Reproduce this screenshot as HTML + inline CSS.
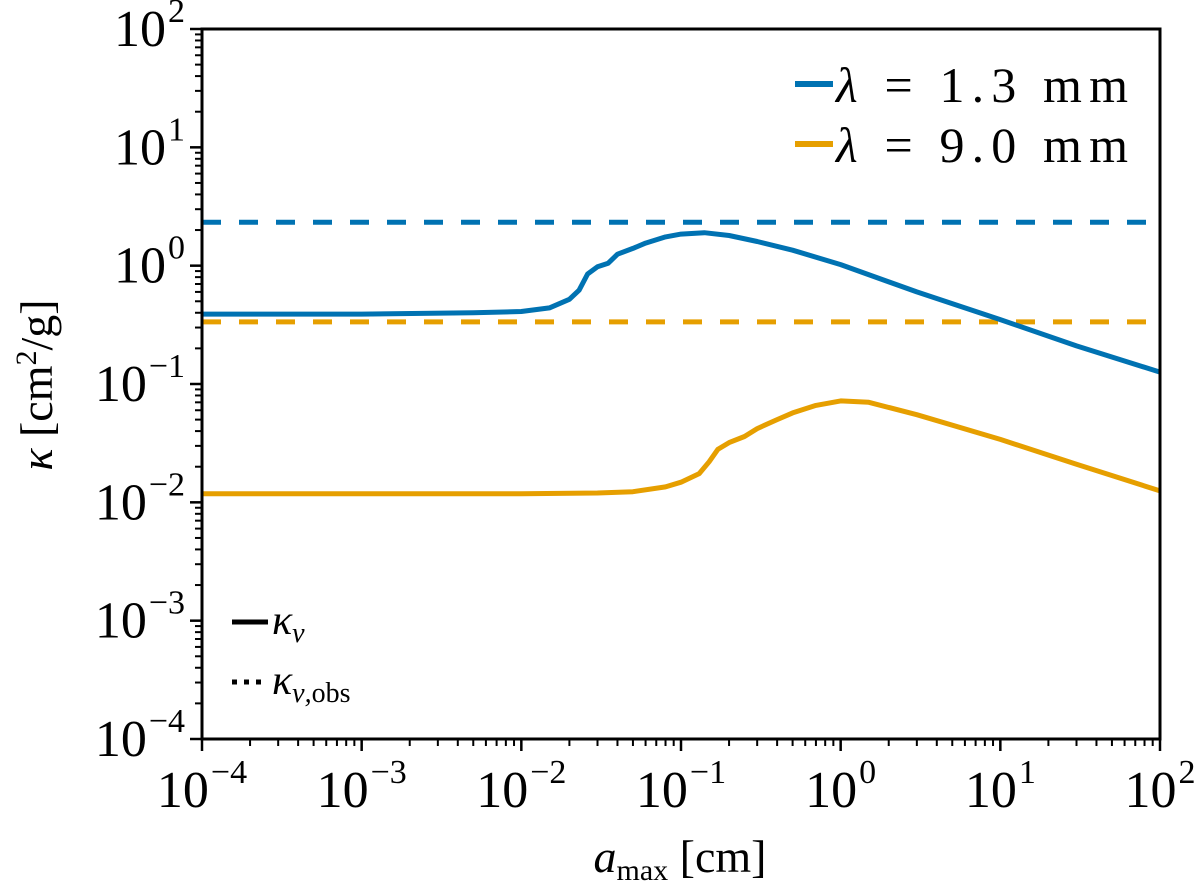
<!DOCTYPE html>
<html><head><meta charset="utf-8"><style>
body{margin:0;background:#fff}
svg text{font-family:"Liberation Serif",serif;fill:#000}
</style></head><body>
<svg id="chart" width="1200" height="891" viewBox="0 0 1200 891" xmlns="http://www.w3.org/2000/svg">
<g id="plot"></g>
</svg>
<script>
const xDecades=[-4,-3,-2,-1,0,1,2];
const yDecades=[-4,-3,-2,-1,0,1,2];
const blueX=[1e-4,1e-3,5e-3,1e-2,1.5e-2,2e-2,2.3e-2,2.6e-2,3e-2,3.5e-2,4e-2,5e-2,6e-2,8e-2,0.1,0.14,0.2,0.3,0.5,1,3,10,30,100];
const blueY=[0.39,0.39,0.40,0.41,0.44,0.52,0.62,0.85,0.98,1.05,1.25,1.4,1.55,1.75,1.85,1.9,1.8,1.6,1.35,1.02,0.6,0.35,0.21,0.126];
const orangeX=[1e-4,1e-3,1e-2,3e-2,5e-2,8e-2,0.1,0.13,0.15,0.17,0.2,0.25,0.3,0.4,0.5,0.7,1.0,1.5,3,10,30,100];
const orangeY=[0.0118,0.0118,0.0118,0.012,0.0123,0.0135,0.0148,0.0175,0.022,0.028,0.032,0.036,0.042,0.05,0.057,0.066,0.072,0.07,0.055,0.034,0.021,0.0125];
const blueObs=2.33;
const orangeObs=0.335;
const L=202,R=1160,T=29,B=739;
const xs=v=>L+(Math.log10(v)+4)/6*(R-L);
const ys=v=>B-(Math.log10(v)+4)/6*(B-T);
const NS="http://www.w3.org/2000/svg";
const g=document.getElementById('plot');
function mk(t,a,p){const e=document.createElementNS(NS,t);for(const k in a)e.setAttribute(k,a[k]);(p||g).appendChild(e);return e;}
let d1=mk('line',{x1:L,x2:R,y1:ys(blueObs),y2:ys(blueObs),stroke:'#0072b2','stroke-width':5,'stroke-dasharray':'19 18'});


let d2=mk('line',{x1:L,x2:R,y1:ys(orangeObs),y2:ys(orangeObs),stroke:'#e69f00','stroke-width':5,'stroke-dasharray':'19 18'});


function path(X,Y){return X.map((x,i)=>(i?'L':'M')+xs(x).toFixed(1)+','+ys(Y[i]).toFixed(1)).join('');}
let p1=mk('path',{d:path(blueX,blueY),fill:'none',stroke:'#0072b2','stroke-width':5,'stroke-linejoin':'round'});


let p2=mk('path',{d:path(orangeX,orangeY),fill:'none',stroke:'#e69f00','stroke-width':5,'stroke-linejoin':'round'});


let fr=mk('rect',{x:L,y:T,width:R-L,height:B-T,fill:'none',stroke:'#000','stroke-width':3});


xDecades.forEach((d,i)=>{
 const x=xs(Math.pow(10,d));
 mk('line',{x1:x,x2:x,y1:B,y2:B+12,stroke:'#000','stroke-width':2.5});
 let t=mk('text',{x:x,y:B+68,'font-size':52,'text-anchor':'middle'});
 
 
 t.innerHTML='10<tspan font-size="34" dy="-24" dx="2">'+(d<0?'−'+(-d):d)+'</tspan>';
 if(i<xDecades.length-1)for(let m=2;m<10;m++){const xm=xs(m*Math.pow(10,d));mk('line',{x1:xm,x2:xm,y1:B,y2:B+7,stroke:'#000','stroke-width':2});}
});
yDecades.forEach((d,i)=>{
 const y=ys(Math.pow(10,d));
 mk('line',{x1:L-12,x2:L,y1:y,y2:y,stroke:'#000','stroke-width':2.5});
 let t=mk('text',{x:L-17,y:y+17,'font-size':52,'text-anchor':'end'});
 
 
 t.innerHTML='10<tspan font-size="34" dy="-24" dx="2">'+(d<0?'−'+(-d):d)+'</tspan>';
 if(i<yDecades.length-1)for(let m=2;m<10;m++){const ym=ys(m*Math.pow(10,d));mk('line',{x1:L-7,x2:L,y1:ym,y2:ym,stroke:'#000','stroke-width':2});}
});
</script>
<svg width="1200" height="891" style="position:absolute;left:0;top:0" xmlns="http://www.w3.org/2000/svg">
<g>
<line x1="795" y1="84" x2="833" y2="84" stroke="#0072b2" stroke-width="6"/>
<text x="836" y="102" font-size="50" textLength="292" lengthAdjust="spacing" font-family="Liberation Serif, serif"><tspan font-style="italic">λ</tspan> = 1.3 mm</text>
<line x1="795" y1="144" x2="833" y2="144" stroke="#e69f00" stroke-width="6"/>
<text x="836" y="162" font-size="50" textLength="292" lengthAdjust="spacing" font-family="Liberation Serif, serif"><tspan font-style="italic">λ</tspan> = 9.0 mm</text>
</g>
<g>
<line x1="232" y1="622" x2="268" y2="622" stroke="#000" stroke-width="5"/>
<text x="272" y="634" font-size="42" font-style="italic" font-family="Liberation Serif, serif">κ<tspan font-size="28" dy="8">ν</tspan></text>
<line x1="232" y1="682" x2="268" y2="682" stroke="#000" stroke-width="5" stroke-dasharray="5 7"/>
<text x="272" y="694" font-size="42" font-style="italic" font-family="Liberation Serif, serif">κ<tspan font-size="28" dy="8">ν,<tspan font-style="normal">obs</tspan></tspan></text>
</g>
<text x="680" y="872" font-size="46" text-anchor="middle" font-family="Liberation Serif, serif"><tspan font-style="italic">a</tspan><tspan font-size="30" dy="8">max</tspan><tspan dy="-8"> [cm]</tspan></text>
<text transform="translate(52,385) rotate(-90)" font-size="46" text-anchor="middle" font-family="Liberation Serif, serif"><tspan font-style="italic">κ</tspan> [cm<tspan font-size="30" dy="-16">2</tspan><tspan dy="16">/g]</tspan></text>
</svg>
</body></html>
